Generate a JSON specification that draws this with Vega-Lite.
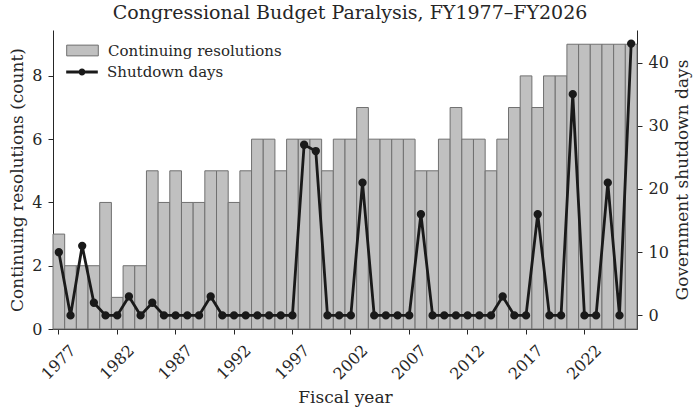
{
  "$schema": "https://vega.github.io/schema/vega-lite/v6.json",
  "width": 584,
  "height": 299,
  "autosize": "none",
  "padding": {"left": 53, "top": 30, "right": 58, "bottom": 82},
  "background": "white",
  "config": {
    "view": {"stroke": null},
    "font": "DejaVu Serif",
    "axis": {
      "labelFont": "DejaVu Serif",
      "titleFont": "DejaVu Serif",
      "labelFontSize": 16,
      "titleFontSize": 17,
      "titleFontWeight": "normal",
      "labelColor": "#262626",
      "titleColor": "#262626",
      "domainColor": "#262626",
      "tickColor": "#262626",
      "tickSize": 5,
      "domainWidth": 1,
      "tickWidth": 1,
      "grid": false
    },
    "legend": {
      "labelFont": "DejaVu Serif",
      "labelFontSize": 15,
      "labelColor": "#262626",
      "labelLimit": 400,
      "padding": 0
    }
  },
  "title": {
    "text": "Congressional Budget Paralysis, FY1977–FY2026",
    "font": "DejaVu Serif",
    "fontSize": 19,
    "fontWeight": "normal",
    "color": "#262626",
    "anchor": "middle",
    "dx": 5,
    "offset": 7
  },
  "data": {
    "values": [
      {"year": 1977, "cr": 3, "days": 10},
      {"year": 1978, "cr": 2, "days": 0},
      {"year": 1979, "cr": 2, "days": 11},
      {"year": 1980, "cr": 2, "days": 2},
      {"year": 1981, "cr": 4, "days": 0},
      {"year": 1982, "cr": 1, "days": 0},
      {"year": 1983, "cr": 2, "days": 3},
      {"year": 1984, "cr": 2, "days": 0},
      {"year": 1985, "cr": 5, "days": 2},
      {"year": 1986, "cr": 4, "days": 0},
      {"year": 1987, "cr": 5, "days": 0},
      {"year": 1988, "cr": 4, "days": 0},
      {"year": 1989, "cr": 4, "days": 0},
      {"year": 1990, "cr": 5, "days": 3},
      {"year": 1991, "cr": 5, "days": 0},
      {"year": 1992, "cr": 4, "days": 0},
      {"year": 1993, "cr": 5, "days": 0},
      {"year": 1994, "cr": 6, "days": 0},
      {"year": 1995, "cr": 6, "days": 0},
      {"year": 1996, "cr": 5, "days": 0},
      {"year": 1997, "cr": 6, "days": 0},
      {"year": 1998, "cr": 6, "days": 27},
      {"year": 1999, "cr": 6, "days": 26},
      {"year": 2000, "cr": 5, "days": 0},
      {"year": 2001, "cr": 6, "days": 0},
      {"year": 2002, "cr": 6, "days": 0},
      {"year": 2003, "cr": 7, "days": 21},
      {"year": 2004, "cr": 6, "days": 0},
      {"year": 2005, "cr": 6, "days": 0},
      {"year": 2006, "cr": 6, "days": 0},
      {"year": 2007, "cr": 6, "days": 0},
      {"year": 2008, "cr": 5, "days": 16},
      {"year": 2009, "cr": 5, "days": 0},
      {"year": 2010, "cr": 6, "days": 0},
      {"year": 2011, "cr": 7, "days": 0},
      {"year": 2012, "cr": 6, "days": 0},
      {"year": 2013, "cr": 6, "days": 0},
      {"year": 2014, "cr": 5, "days": 0},
      {"year": 2015, "cr": 6, "days": 3},
      {"year": 2016, "cr": 7, "days": 0},
      {"year": 2017, "cr": 8, "days": 0},
      {"year": 2018, "cr": 7, "days": 16},
      {"year": 2019, "cr": 8, "days": 0},
      {"year": 2020, "cr": 8, "days": 0},
      {"year": 2021, "cr": 9, "days": 35},
      {"year": 2022, "cr": 9, "days": 0},
      {"year": 2023, "cr": 9, "days": 0},
      {"year": 2024, "cr": 9, "days": 21},
      {"year": 2025, "cr": 9, "days": 0},
      {"year": 2026, "cr": 9, "days": 43}
    ]
  },
  "encoding": {
    "x": {
      "field": "year",
      "type": "ordinal",
      "scale": {"paddingInner": 0, "paddingOuter": 0},
      "axis": {
        "title": "Fiscal year",
        "values": [1977, 1982, 1987, 1992, 1997, 2002, 2007, 2012, 2017, 2022],
        "labelAngle": -45,
        "labelAlign": "center",
        "labelBaseline": "middle",
        "labelPadding": 28,
        "titlePadding": 7
      }
    }
  },
  "layer": [
    {
      "mark": {"type": "bar", "stroke": "#707070", "strokeWidth": 1},
      "encoding": {
        "y": {
          "field": "cr",
          "type": "quantitative",
          "scale": {"domain": [0, 9.45], "nice": false, "zero": false},
          "axis": {
            "title": "Continuing resolutions (count)",
            "values": [0, 2, 4, 6, 8],
            "labelPadding": 6,
            "titlePadding": 5
          }
        },
        "fill": {
          "datum": "Continuing resolutions",
          "type": "nominal",
          "scale": {"range": ["#c0c0c0"]},
          "legend": {
            "title": null,
            "orient": "none",
            "legendX": 13,
            "legendY": 4,
            "symbolType": "M-1,-0.34L1,-0.34L1,0.34L-1,0.34Z",
            "symbolSize": 1000,
            "symbolStrokeColor": "#707070",
            "symbolStrokeWidth": 1,
            "symbolFillColor": "#c0c0c0",
            "labelOffset": 9
          }
        }
      }
    },
    {
      "mark": {
        "type": "line",
        "strokeWidth": 2.8,
        "color": "#1a1a1a",
        "point": {"filled": true, "size": 40, "color": "#1a1a1a"}
      },
      "encoding": {
        "y": {
          "field": "days",
          "type": "quantitative",
          "scale": {"domain": [-2.15, 45.15], "nice": false, "zero": false},
          "axis": {
            "orient": "right",
            "title": "Government shutdown days",
            "titleAngle": 270,
            "titleBaseline": "top",
            "values": [0, 10, 20, 30, 40],
            "labelPadding": 6,
            "titlePadding": 6
          }
        },
        "stroke": {
          "datum": "Shutdown days",
          "type": "nominal",
          "scale": {"range": ["#1a1a1a"]},
          "legend": {
            "title": null,
            "orient": "none",
            "legendX": 13,
            "legendY": 26,
            "symbolType": "M-1,-0.09L1,-0.09L1,0.09L-1,0.09Z M0.22,0A0.22,0.22,0,1,1,-0.22,0A0.22,0.22,0,1,1,0.22,0Z",
            "symbolSize": 1000,
            "symbolFillColor": "#1a1a1a",
            "symbolStrokeColor": "#1a1a1a",
            "symbolStrokeWidth": 0,
            "labelOffset": 9
          }
        }
      }
    }
  ],
  "resolve": {"scale": {"y": "independent"}}
}
